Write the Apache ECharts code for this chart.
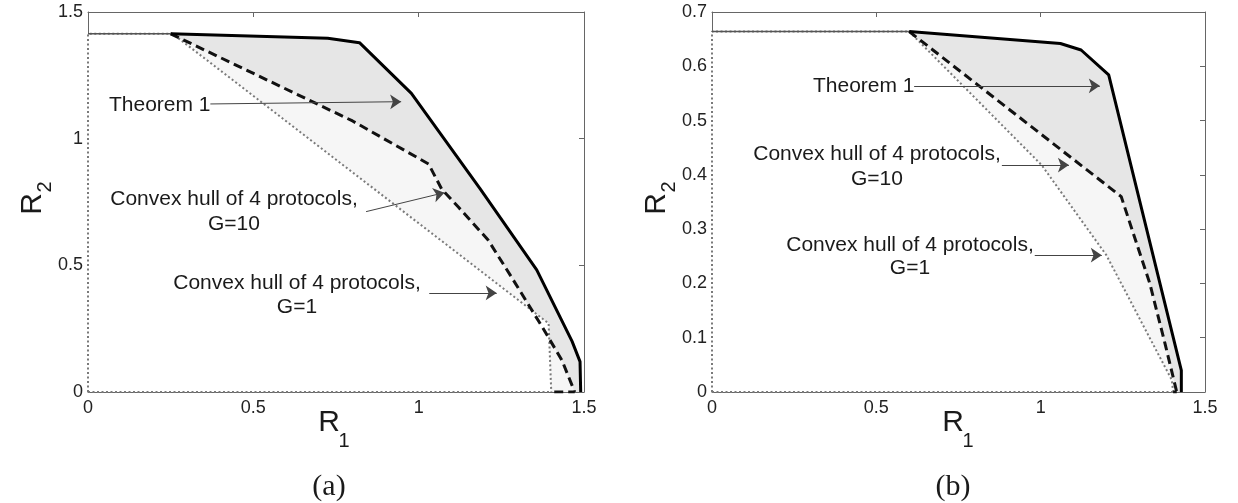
<!DOCTYPE html>
<html>
<head>
<meta charset="utf-8"/>
<title>Rate regions</title>
<script src="https://cdn.jsdelivr.net/npm/echarts@6/dist/echarts.min.js"></script>
<style>
  html, body { margin: 0; padding: 0; background: #fff; }
  #main { width: 1238px; height: 503px; }
</style>
</head>
<body>
<div id="main"></div>
<script type="text/javascript">
    // tick labels
    var xTicks = ['0', '0.5', '1', '1.5'];
    var yTicksA = ['0', '0.5', '1', '1.5'];
    var yTicksB = ['0', '0.1', '0.2', '0.3', '0.4', '0.5', '0.6', '0.7'];

    // panel (a): [R1, R2] points
    var theoremA = [[0.25, 1.414], [0.725, 1.396], [0.821, 1.379], [0.978, 1.179], [1.185, 0.804],
                    [1.357, 0.482], [1.464, 0.2], [1.488, 0.12], [1.49, 0]];
    var hullG10A = [[0.25, 1.414], [0.8, 1.07], [1.03, 0.9], [1.07, 0.8], [1.12, 0.73], [1.21, 0.6],
                    [1.28, 0.455], [1.373, 0.258], [1.433, 0.126], [1.472, 0]];
    var hullG10BaseA = [[1.41, 0], [1.472, 0]];
    var hullG1A = [[0, 0], [0, 1.414], [0.256, 1.414], [1.393, 0.271], [1.401, 0]];
    var topA = [[0, 1.414], [0.25, 1.414]];
    var baseA = [[0, 0], [1.401, 0]];

    // panel (b)
    var theoremB = [[0.6, 0.664], [1.06, 0.642], [1.123, 0.63], [1.207, 0.584], [1.428, 0.04], [1.428, 0]];
    var hullG10B = [[0.6, 0.664], [1.245, 0.36], [1.332, 0.2], [1.378, 0.09], [1.414, 0]];
    var hullG10BaseB = [[1.403, 0], [1.414, 0]];
    var hullG1B = [[0, 0], [0, 0.664], [0.6, 0.664], [1.003, 0.418], [1.2, 0.252], [1.399, 0.022], [1.403, 0]];
    var topB = [[0, 0.664], [0.6, 0.664]];
    var baseB = [[0, 0], [1.403, 0]];

    // annotation arrows, [from, to] in data coords
    var arrowsA = [[[0.37, 1.137], [0.947, 1.146]], [[0.841, 0.712], [1.078, 0.787]], [[1.032, 0.391], [1.236, 0.391]]];
    var arrowsB = [[[0.615, 0.564], [1.18, 0.564]], [[0.882, 0.418], [1.086, 0.418]], [[0.982, 0.252], [1.186, 0.252]]];

    var FONT = 'Liberation Sans, Arial, sans-serif';
    var axisColor = '#666';

    function xAxes(gi) {
        var base = {
            gridIndex: gi, type: 'value', min: 0, max: 1.5, interval: 0.5,
            axisLine: {show: true, onZero: false, lineStyle: {color: axisColor, width: 1}},
            axisTick: {show: true, inside: true, length: 5, lineStyle: {color: axisColor}},
            splitLine: {show: false}
        };
        var bottom = echarts.util.merge({
            position: 'bottom',
            axisLabel: {color: '#222', fontSize: 18, fontFamily: FONT, margin: 7, showMinLabel: true, showMaxLabel: true,
                formatter: function (v) { return xTicks[Math.round(v / 0.5)]; }}
        }, base, true);
        var top = echarts.util.merge({position: 'top', axisLabel: {show: false}}, base, true);
        return [bottom, top];
    }

    function yAxes(gi, max, step, labels) {
        var base = {
            gridIndex: gi, type: 'value', min: 0, max: max, interval: step,
            axisLine: {show: true, onZero: false, lineStyle: {color: axisColor, width: 1}},
            axisTick: {show: true, inside: true, length: 5, lineStyle: {color: axisColor}},
            splitLine: {show: false}
        };
        var left = echarts.util.merge({
            position: 'left',
            axisLabel: {color: '#222', fontSize: 18, fontFamily: FONT, margin: 5, showMinLabel: true, showMaxLabel: true,
                formatter: function (v) { return labels[Math.round(v / step)]; }}
        }, base, true);
        var right = echarts.util.merge({position: 'right', axisLabel: {show: false}}, base, true);
        return [left, right];
    }

    function areaSeries(ax, data, color) {
        return {
            type: 'line', xAxisIndex: ax, yAxisIndex: ax, data: data, showSymbol: false, silent: true,
            lineStyle: {width: 0, opacity: 0}, areaStyle: {color: color, opacity: 1}, z: 1
        };
    }

    function lineSeries(ax, data, style, z) {
        return {
            type: 'line', xAxisIndex: ax, yAxisIndex: ax, data: data, showSymbol: false, silent: true,
            lineStyle: style, z: z || 3
        };
    }

    function arrowSeries(ax, arrows) {
        return {
            type: 'line', xAxisIndex: ax, yAxisIndex: ax, data: [], silent: true, z: 6,
            markLine: {
                silent: true, animation: false,
                symbol: ['none', 'arrow'], symbolSize: [11, 11],
                label: {show: false},
                lineStyle: {color: '#444', width: 1, type: 'solid'},
                data: arrows.map(function (a) { return [{coord: a[0]}, {coord: a[1]}]; })
            }
        };
    }

    function panelSeries(ax, theorem, g10, g10Base, g1, topSeg, baseSeg, arrows) {
        var dotted = {color: '#7a7a7a', width: 2, type: [2, 2.5]};
        var dashed = {color: '#111', width: 3, type: [9, 5]};
        return [
            areaSeries(ax, theorem, '#e6e6e6'),
            areaSeries(ax, g10, '#f6f6f6'),
            areaSeries(ax, g1, '#ffffff'),
            lineSeries(ax, g1, dotted, 3),
            lineSeries(ax, baseSeg, dotted, 3),
            lineSeries(ax, topSeg, {color: '#555', width: 1.5}, 4),
            lineSeries(ax, g10, dashed, 4),
            lineSeries(ax, g10Base, dashed, 4),
            lineSeries(ax, theorem, {color: '#000', width: 3}, 5),
            arrowSeries(ax, arrows)
        ];
    }

    function txt(x, y, text, size, align, extra) {
        var s = {text: text, fontSize: size, fontFamily: FONT, fill: '#1a1a1a',
                 align: align || 'center', verticalAlign: 'middle'};
        if (extra) { for (var k in extra) { s[k] = extra[k]; } }
        return {type: 'text', x: x, y: y, z: 100, style: s, silent: true};
    }

    function rot(el) { el.rotation = Math.PI / 2; return el; }

    var graphics = [
        // panel (a)
        txt(109, 105, 'Theorem 1', 21, 'left'),
        txt(234, 212, 'Convex hull of 4 protocols,\nG=10', 21, 'center', {lineHeight: 25}),
        txt(297, 295, 'Convex hull of 4 protocols,\nG=1', 21, 'center', {lineHeight: 24}),
        txt(329, 423, 'R', 30),
        txt(344, 441, '1', 20),
        rot(txt(33, 204, 'R', 30)),
        rot(txt(45, 187, '2', 20)),
        txt(329, 487, '(a)', 30, 'center', {fontFamily: 'Liberation Serif, Times New Roman, serif'}),
        // panel (b)
        txt(813, 86, 'Theorem 1', 21, 'left'),
        txt(877, 167, 'Convex hull of 4 protocols,\nG=10', 21, 'center', {lineHeight: 25}),
        txt(910, 257, 'Convex hull of 4 protocols,\nG=1', 21, 'center', {lineHeight: 23}),
        txt(953, 423, 'R', 30),
        txt(968, 441, '1', 20),
        rot(txt(657, 204, 'R', 30)),
        rot(txt(669, 187, '2', 20)),
        txt(953, 487, '(b)', 30, 'center', {fontFamily: 'Liberation Serif, Times New Roman, serif'})
    ];

    var myChart = echarts.init(document.getElementById('main'));
    var option = {
        animation: false,
        backgroundColor: '#fff',
        grid: [
            {left: 88, top: 12, width: 496, height: 380},
            {left: 712, top: 12, width: 493, height: 380}
        ],
        xAxis: xAxes(0).concat(xAxes(1)),
        yAxis: yAxes(0, 1.5, 0.5, yTicksA).concat(yAxes(1, 0.7, 0.1, yTicksB)),
        series: [],
        graphic: {elements: graphics}
    };
    // axes are listed bottom/top (and left/right) per panel: index 0,1 for (a), 2,3 for (b)
    var sa = panelSeries(0, theoremA, hullG10A, hullG10BaseA, hullG1A, topA, baseA, arrowsA);
    var sb = panelSeries(2, theoremB, hullG10B, hullG10BaseB, hullG1B, topB, baseB, arrowsB);
    option.series = sa.concat(sb);
    myChart.setOption(option);
</script>
</body>
</html>
